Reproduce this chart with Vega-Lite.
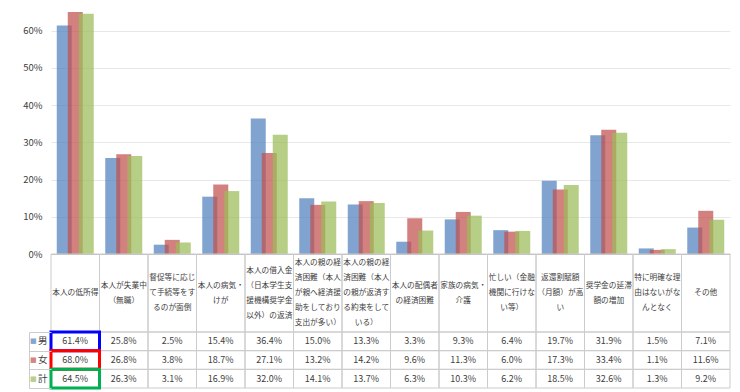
{
  "$schema": "https://vega.github.io/schema/vega-lite/v6.json",
  "padding": {"left": 22, "top": 12, "right": 5, "bottom": 0},
  "background": "white",
  "spacing": 0,
  "bounds": "flush",
  "config": {
    "view": {"stroke": null},
    "font": "Noto Sans CJK JP",
    "axis": {"labelFont": "Noto Sans CJK JP", "labelColor": "#404040", "title": null}
  },
  "datasets": {
    "vals": [
      {"cat": "本人の低所得", "series": "男", "value": 0.614},
      {"cat": "本人の低所得", "series": "女", "value": 0.680},
      {"cat": "本人の低所得", "series": "計", "value": 0.645},
      {"cat": "本人が失業中（無職）", "series": "男", "value": 0.258},
      {"cat": "本人が失業中（無職）", "series": "女", "value": 0.268},
      {"cat": "本人が失業中（無職）", "series": "計", "value": 0.263},
      {"cat": "督促等に応じて手続等をするのが面倒", "series": "男", "value": 0.025},
      {"cat": "督促等に応じて手続等をするのが面倒", "series": "女", "value": 0.038},
      {"cat": "督促等に応じて手続等をするのが面倒", "series": "計", "value": 0.031},
      {"cat": "本人の病気・けが", "series": "男", "value": 0.154},
      {"cat": "本人の病気・けが", "series": "女", "value": 0.187},
      {"cat": "本人の病気・けが", "series": "計", "value": 0.169},
      {"cat": "本人の借入金（日本学生支援機構奨学金以外）の返済", "series": "男", "value": 0.364},
      {"cat": "本人の借入金（日本学生支援機構奨学金以外）の返済", "series": "女", "value": 0.271},
      {"cat": "本人の借入金（日本学生支援機構奨学金以外）の返済", "series": "計", "value": 0.320},
      {"cat": "本人の親の経済困難（本人が親へ経済援助をしており支出が多い）", "series": "男", "value": 0.150},
      {"cat": "本人の親の経済困難（本人が親へ経済援助をしており支出が多い）", "series": "女", "value": 0.132},
      {"cat": "本人の親の経済困難（本人が親へ経済援助をしており支出が多い）", "series": "計", "value": 0.141},
      {"cat": "本人の親の経済困難（本人の親が返済する約束をしている）", "series": "男", "value": 0.133},
      {"cat": "本人の親の経済困難（本人の親が返済する約束をしている）", "series": "女", "value": 0.142},
      {"cat": "本人の親の経済困難（本人の親が返済する約束をしている）", "series": "計", "value": 0.137},
      {"cat": "本人の配偶者の経済困難", "series": "男", "value": 0.033},
      {"cat": "本人の配偶者の経済困難", "series": "女", "value": 0.096},
      {"cat": "本人の配偶者の経済困難", "series": "計", "value": 0.063},
      {"cat": "家族の病気・介護", "series": "男", "value": 0.093},
      {"cat": "家族の病気・介護", "series": "女", "value": 0.113},
      {"cat": "家族の病気・介護", "series": "計", "value": 0.103},
      {"cat": "忙しい（金融機関に行けない等）", "series": "男", "value": 0.064},
      {"cat": "忙しい（金融機関に行けない等）", "series": "女", "value": 0.060},
      {"cat": "忙しい（金融機関に行けない等）", "series": "計", "value": 0.062},
      {"cat": "返還割賦額（月額）が高い", "series": "男", "value": 0.197},
      {"cat": "返還割賦額（月額）が高い", "series": "女", "value": 0.173},
      {"cat": "返還割賦額（月額）が高い", "series": "計", "value": 0.185},
      {"cat": "奨学金の延滞額の増加", "series": "男", "value": 0.319},
      {"cat": "奨学金の延滞額の増加", "series": "女", "value": 0.334},
      {"cat": "奨学金の延滞額の増加", "series": "計", "value": 0.326},
      {"cat": "特に明確な理由はないがなんとなく", "series": "男", "value": 0.015},
      {"cat": "特に明確な理由はないがなんとなく", "series": "女", "value": 0.011},
      {"cat": "特に明確な理由はないがなんとなく", "series": "計", "value": 0.013},
      {"cat": "その他", "series": "男", "value": 0.071},
      {"cat": "その他", "series": "女", "value": 0.116},
      {"cat": "その他", "series": "計", "value": 0.092}
    ],
    "head": [
      {"cat": "本人の低所得", "lines": ["本人の低所得"]},
      {"cat": "本人が失業中（無職）", "lines": ["本人が失業中", "（無職）"]},
      {"cat": "督促等に応じて手続等をするのが面倒", "lines": ["督促等に応じ", "て手続等をす", "るのが面倒"]},
      {"cat": "本人の病気・けが", "lines": ["本人の病気・", "けが"]},
      {"cat": "本人の借入金（日本学生支援機構奨学金以外）の返済", "lines": ["本人の借入金", "（日本学生支", "援機構奨学金", "以外）の返済"]},
      {"cat": "本人の親の経済困難（本人が親へ経済援助をしており支出が多い）", "lines": ["本人の親の経", "済困難（本人", "が親へ経済援", "助をしており", "支出が多い）"]},
      {"cat": "本人の親の経済困難（本人の親が返済する約束をしている）", "lines": ["本人の親の経", "済困難（本人", "の親が返済す", "る約束をして", "いる）"]},
      {"cat": "本人の配偶者の経済困難", "lines": ["本人の配偶者", "の経済困難"]},
      {"cat": "家族の病気・介護", "lines": ["家族の病気・", "介護"]},
      {"cat": "忙しい（金融機関に行けない等）", "lines": ["忙しい（金融", "機関に行けな", "い等）"]},
      {"cat": "返還割賦額（月額）が高い", "lines": ["返還割賦額", "（月額）が高", "い"]},
      {"cat": "奨学金の延滞額の増加", "lines": ["奨学金の延滞", "額の増加"]},
      {"cat": "特に明確な理由はないがなんとなく", "lines": ["特に明確な理", "由はないがな", "んとなく"]},
      {"cat": "その他", "lines": ["その他"]}
    ]
  },
  "vconcat": [
    {
      "width": 679,
      "height": 242,
      "data": {"name": "vals"},
      "mark": {"type": "bar", "width": 15, "fillOpacity": 0.72, "clip": true},
      "encoding": {
        "x": {"field": "cat", "type": "nominal", "sort": null,
              "scale": {"paddingInner": 0, "paddingOuter": 0},
              "axis": {"labels": false, "ticks": false, "domainColor": "#bfbfbf", "title": null}},
        "xOffset": {"field": "series", "type": "nominal", "sort": null,
                    "scale": {"paddingInner": 0, "paddingOuter": 0.705}},
        "y": {"field": "value", "type": "quantitative",
              "scale": {"domain": [0, 0.65], "nice": false},
              "axis": {"format": "%", "values": [0, 0.1, 0.2, 0.3, 0.4, 0.5, 0.6], "domain": false, "ticks": false,
                       "labelPadding": 9, "labelFontSize": 9.5, "gridColor": "#e8e8e8", "title": null}},
        "color": {"field": "series", "type": "nominal", "sort": null,
                  "scale": {"range": ["#4F81BD", "#C0504D", "#9BBB59"]}, "legend": null}
      }
    },
    {
      "width": 679,
      "height": 78,
      "data": {"name": "head"},
      "transform": [{"calculate": "length(datum.lines)", "as": "n"}],
      "encoding": {
        "x": {"field": "cat", "type": "nominal", "sort": null,
              "scale": {"paddingInner": 0, "paddingOuter": 0}, "axis": null}
      },
      "layer": [
        {"mark": {"type": "rect", "fill": "white", "fillOpacity": 0, "stroke": "#cccccc", "strokeWidth": 1}},
        {"mark": {"type": "text", "fontSize": 7.7, "lineHeight": 15, "color": "#404040", "baseline": "middle", "align": "center"},
         "encoding": {
           "text": {"field": "lines"},
           "y": {"field": "n", "type": "quantitative", "scale": {"domain": [1, 5], "range": [39, 9], "zero": false, "nice": false}, "axis": null}
         }}
      ]
    },
    {
      "width": 679,
      "height": 56,
      "data": {"name": "vals"},
      "encoding": {
        "x": {"field": "cat", "type": "nominal", "sort": null,
              "scale": {"paddingInner": 0, "paddingOuter": 0}, "axis": null}
      },
      "layer": [
        {
          "mark": {"type": "rect", "fill": "white", "fillOpacity": 0, "stroke": "#cccccc", "strokeWidth": 1},
          "encoding": {
            "y": {"field": "series", "type": "nominal", "sort": null,
                  "scale": {"paddingInner": 0, "paddingOuter": 0},
                  "axis": {"orient": "left", "offset": 22, "labels": false, "domain": true, "domainColor": "#cccccc",
                           "ticks": true, "tickSize": -22, "tickBand": "extent", "tickColor": "#cccccc", "title": null}}
          }
        },
        {
          "mark": {"type": "text", "fontSize": 9, "color": "#404040"},
          "encoding": {
            "y": {"field": "series", "type": "nominal", "sort": null,
                  "axis": {"orient": "left", "labels": true, "ticks": false, "domain": false, "labelPadding": 4,
                           "labelFontSize": 9.5, "title": null}},
            "text": {"field": "value", "type": "quantitative", "format": ".1%"}
          }
        },
        {
          "transform": [{"filter": "datum.cat === '本人の低所得'"}],
          "mark": {"type": "rect", "fill": "white", "fillOpacity": 0, "strokeWidth": 3},
          "encoding": {
            "y": {"field": "series", "type": "nominal", "sort": null,
                  "axis": {"orient": "left", "labelExpr": "'■'", "ticks": false, "domain": false, "labelPadding": 15,
                           "labelFont": "DejaVu Sans", "labelFontSize": 7, "title": null,
                           "labelColor": {"condition": [{"test": "datum.value === '男'", "value": "#84a7d1"}, {"test": "datum.value === '女'", "value": "#d38582"}], "value": "#b9cf8b"}}},
            "stroke": {"field": "series", "type": "nominal", "sort": null,
                       "scale": {"range": ["#0000ff", "#ff0000", "#00b050"]}, "legend": null}
          }
        }
      ],
      "resolve": {"axis": {"y": "independent"}}
    }
  ]
}
